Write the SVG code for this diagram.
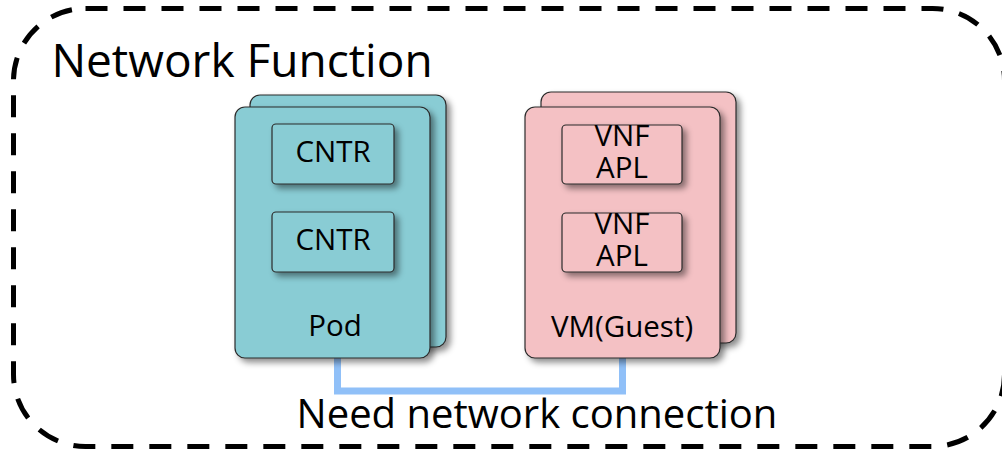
<svg xmlns="http://www.w3.org/2000/svg" width="1002" height="449" viewBox="0 0 1002 449">
<defs>
<filter id="sh" x="-10%" y="-10%" width="130%" height="130%">
<feDropShadow dx="4" dy="4" stdDeviation="3" flood-color="#000" flood-opacity="0.45"/>
</filter>
<style>
.t{font-family:"Open Sans","Noto Sans","DejaVu Sans",sans-serif;fill:#000;text-anchor:middle}
.pod{fill:#89CCD4;stroke:#2b2b2b;stroke-width:1.2;filter:url(#sh)}
.vm{fill:#F4C1C4;stroke:#2b2b2b;stroke-width:1.2;filter:url(#sh)}
.in{font-size:29.5px}
</style>
</defs>
<rect x="13.5" y="8.5" width="991" height="438" rx="72" ry="72" fill="none" stroke="#000" stroke-width="5" stroke-dasharray="22 16"/>
<text class="t" x="242" y="77" style="font-size:46px">Network Function</text>
<g id="connectors">
<path d="M337.5 358 V391 H622.5 V358" fill="none" stroke="#90C0F8" stroke-width="7"/>
</g>
<g id="pod">
<rect class="pod" x="250" y="95" width="196" height="252" rx="10"/>
<rect class="pod" x="235" y="107" width="195" height="251" rx="10"/>
<text class="t in" x="335" y="336">Pod</text>
</g>
<g id="cntr1">
<rect class="pod" x="272" y="124" width="122" height="60" rx="4"/>
<text class="t in" x="333" y="162">CNTR</text>
</g>
<g id="cntr2">
<rect class="pod" x="272" y="212" width="122" height="60" rx="4"/>
<text class="t in" x="333" y="250">CNTR</text>
</g>
<g id="vm">
<rect class="vm" x="541" y="92" width="195" height="251" rx="10"/>
<rect class="vm" x="525" y="107" width="195" height="251" rx="10"/>
<text class="t in" x="622" y="337">VM(Guest)</text>
</g>
<g id="vnf1">
<rect class="vm" x="562" y="125" width="120" height="59" rx="4"/>
<text class="t in" x="622" y="146">VNF</text>
<text class="t in" x="622" y="178">APL</text>
</g>
<g id="vnf2">
<rect class="vm" x="562" y="213" width="120" height="59" rx="4"/>
<text class="t in" x="622" y="234">VNF</text>
<text class="t in" x="622" y="266">APL</text>
</g>
<text class="t" x="537" y="428" style="font-size:40px">Need network connection</text>
</svg>
